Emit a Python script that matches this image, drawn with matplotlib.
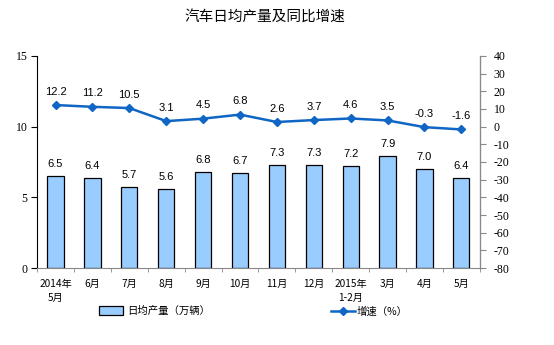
import matplotlib
matplotlib.use("Agg")
import matplotlib.pyplot as plt
from matplotlib.lines import Line2D
from matplotlib.patches import Patch
import numpy as np

plt.rcParams['font.family'] = ['Noto Sans CJK SC', 'DejaVu Sans']
plt.rcParams['axes.unicode_minus'] = False

categories = ["2014年\n5月", "6月", "7月", "8月", "9月", "10月", "11月", "12月",
              "2015年\n1-2月", "3月", "4月", "5月"]
daily_output = [6.5, 6.4, 5.7, 5.6, 6.8, 6.7, 7.3, 7.3, 7.2, 7.9, 7.0, 6.4]
growth_rate = [12.2, 11.2, 10.5, 3.1, 4.5, 6.8, 2.6, 3.7, 4.6, 3.5, -0.3, -1.6]

bar_color = "#99CCFF"
line_color = "#0F66C4"

fig = plt.figure(figsize=(5.54, 3.45), dpi=100)
ax = fig.add_axes([0.067, 0.223, 0.799, 0.615])
ax2 = ax.twinx()

x = np.arange(len(categories))
ax.bar(x, daily_output, width=0.44, color=bar_color, edgecolor="black", linewidth=0.9, zorder=2)
for xi, v in zip(x, daily_output):
    ax.annotate(f"{v:.1f}", (xi, v), xytext=(0, 5), textcoords="offset points",
                ha="center", va="bottom", fontsize=8, family="Liberation Sans")

ax2.plot(x, growth_rate, color=line_color, lw=1.8, marker="D", markersize=4, zorder=3)
for xi, v in zip(x, growth_rate):
    ax2.annotate(f"{v:.1f}", (xi, v), xytext=(0, 6), textcoords="offset points",
                 ha="center", va="bottom", fontsize=8, family="Liberation Sans")

ax.set_xlim(-0.5, len(categories) - 0.5)
ax.set_ylim(0, 15)
ax.set_yticks([0, 5, 10, 15])
ax2.set_ylim(-80, 40)
ax2.set_yticks(np.arange(-80, 41, 10))

ax.set_xticks(x)
ax.set_xticklabels(categories, fontsize=7.3, linespacing=1.45)
ax.set_xticks(np.arange(-0.5, len(categories), 1), minor=True)
ax.tick_params(axis="x", which="major", length=0, pad=8)
ax.tick_params(axis="x", which="minor", length=3, direction="out", color="#888888")

for label in ax.get_yticklabels():
    label.set_family("Liberation Serif")
for label in ax2.get_yticklabels():
    label.set_family("Liberation Serif")
ax.tick_params(axis="y", labelsize=8.5, length=4, direction="out", pad=3)
ax2.tick_params(axis="y", labelsize=8.5, length=4, direction="out", color="#888888", pad=6)

for a in (ax, ax2):
    a.spines["top"].set_visible(False)
ax.spines["left"].set_color("black")
ax.spines["bottom"].set_color("#888888")
ax2.spines["right"].set_color("#888888")
ax2.spines["left"].set_visible(False)
ax2.spines["bottom"].set_visible(False)

fig.text(0.478, 0.95, "汽车日均产量及同比增速", ha="center", va="center", fontsize=10.5)

handles = [Patch(facecolor=bar_color, edgecolor="black", linewidth=0.9),
           Line2D([0], [0], color=line_color, lw=1.8, marker="D", markersize=4)]
fig.legend(handles[:1], ["日均产量（万辆）"], loc="center left", bbox_to_anchor=(0.178, 0.098),
           frameon=False, fontsize=7.5, handlelength=2.3, handleheight=1.0,
           handletextpad=0.4, borderaxespad=0, borderpad=0)
fig.legend(handles[1:], ["增速（%）"], loc="center left", bbox_to_anchor=(0.597, 0.098),
           frameon=False, fontsize=7.5, handlelength=2.3, handletextpad=0.2,
           borderaxespad=0, borderpad=0)

fig.savefig("out.png", dpi=100)
